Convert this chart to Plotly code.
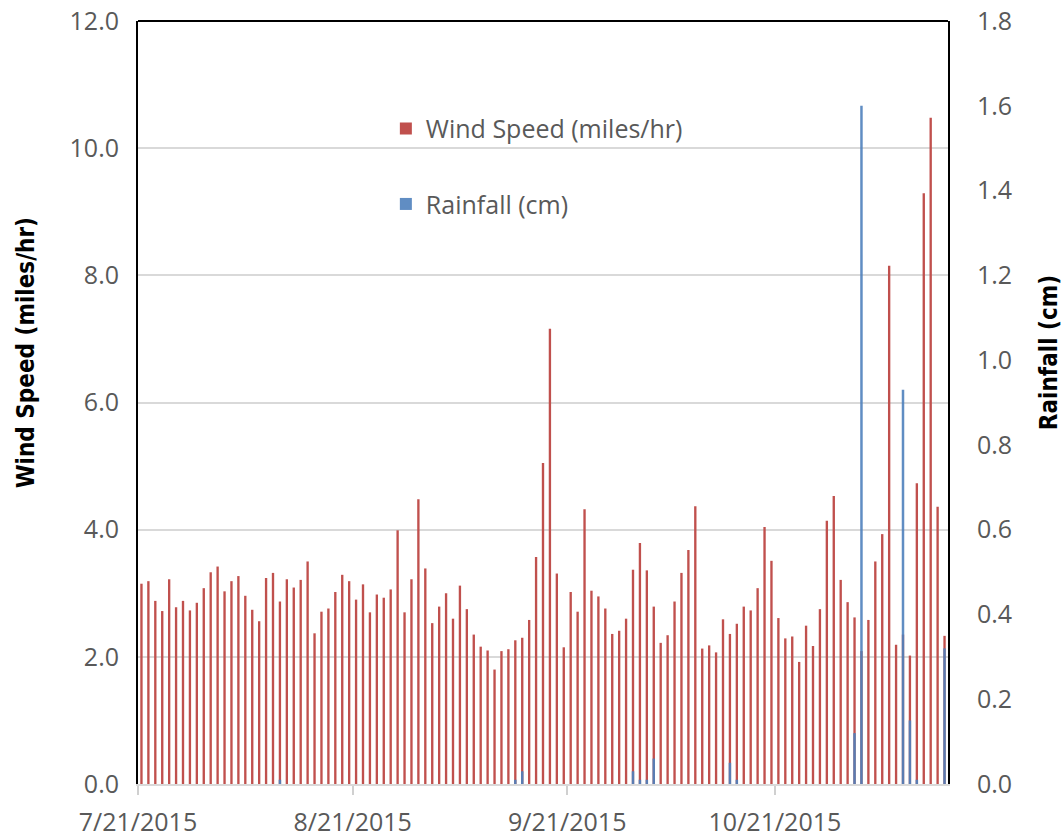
import pandas as pd
import plotly.graph_objects as go

start_date = "2015-07-21"

wind_speed = [
    3.15, 3.19, 2.88, 2.72, 3.22, 2.78, 2.88, 2.73, 2.85, 3.08,
    3.33, 3.42, 3.03, 3.19, 3.27, 2.96, 2.74, 2.56, 3.24, 3.32,
    2.87, 3.22, 3.09, 3.21, 3.50, 2.37, 2.71, 2.76, 3.02, 3.29,
    3.19, 2.90, 3.14, 2.70, 2.98, 2.93, 3.06, 3.99, 2.70, 3.22,
    4.48, 3.39, 2.53, 2.79, 3.00, 2.60, 3.12, 2.75, 2.35, 2.16,
    2.10, 1.80, 2.09, 2.12, 2.26, 2.30, 2.58, 3.57, 5.05, 7.16,
    3.31, 2.15, 3.02, 2.71, 4.32, 3.04, 2.95, 2.76, 2.36, 2.41,
    2.60, 3.37, 3.79, 3.36, 2.79, 2.22, 2.34, 2.87, 3.32, 3.68,
    4.37, 2.13, 2.18, 2.07, 2.59, 2.36, 2.52, 2.79, 2.73, 3.08,
    4.04, 3.51, 2.61, 2.29, 2.32, 1.92, 2.49, 2.17, 2.75, 4.14,
    4.53, 3.21, 2.86, 2.62, 2.09, 2.58, 3.50, 3.93, 8.15, 2.19,
    2.35, 2.02, 4.73, 9.29, 10.48, 4.36, 2.33,
]

rainfall = [0.0] * len(wind_speed)
rain_events = {  # day number (1 = 7/21/2015): rainfall in cm
    21: 0.01, 55: 0.01, 56: 0.03, 72: 0.03, 73: 0.01, 74: 0.01,
    75: 0.06, 86: 0.05, 87: 0.01, 104: 0.12, 105: 1.60, 111: 0.93,
    112: 0.15, 113: 0.01, 117: 0.32,
}
for day, val in rain_events.items():
    rainfall[day - 1] = val

dates = pd.date_range(start_date, periods=len(wind_speed), freq="D")

tick_dates = ["2015-07-21", "2015-08-21", "2015-09-21", "2015-10-21"]
tick_labels = ["7/21/2015", "8/21/2015", "9/21/2015", "10/21/2015"]

RED = "#C0504D"
BLUE = "#4F81BD"
DAY_MS = 86400000

fig = go.Figure()
fig.add_trace(go.Bar(
    x=dates, y=wind_speed, name="Wind Speed (miles/hr)",
    marker=dict(color=RED, line=dict(width=0)),
    xperiod=DAY_MS, xperiodalignment="middle", width=0.34 * DAY_MS,
    yaxis="y", legendgroup="w",
))
fig.add_trace(go.Bar(
    x=dates, y=rainfall, name="Rainfall (cm)",
    marker=dict(color=BLUE, line=dict(width=0)), opacity=0.9,
    xperiod=DAY_MS, xperiodalignment="middle", width=0.36 * DAY_MS,
    yaxis="y2", legendgroup="r",
))

tick_font = dict(family="Open Sans, sans-serif", size=25, color="#595959")
title_font = dict(family="Liberation Sans Narrow, Arial Narrow, DejaVu Sans Condensed, sans-serif",
                  size=24, color="#000000")

fig.update_layout(
    width=1062, height=839,
    margin=dict(l=138, r=114, t=21, b=55),
    paper_bgcolor="white", plot_bgcolor="white",
    barmode="overlay",
    showlegend=True,
    legend=dict(
        x=0.306, y=0.889, xanchor="left", yanchor="top",
        font=dict(family="Open Sans, sans-serif", size=25, color="#595959"),
        bgcolor="rgba(0,0,0,0)", traceorder="grouped", tracegroupgap=40,
    ),
    xaxis=dict(
        type="date", automargin=False,
        range=["2015-07-21", "2015-11-15"],
        tickvals=tick_dates, ticktext=tick_labels,
        tickfont=tick_font, ticklabeloverflow="allow",
        ticks="outside", ticklen=9, tickwidth=2, tickcolor="#D0D0D0",
        showline=True, linecolor="#D9D9D9", linewidth=2,
        showgrid=False, zeroline=False,
        ticklabelstandoff=6,
    ),
    yaxis=dict(
        range=[0, 12], dtick=2, tickformat=".1f", automargin=False,
        tickfont=tick_font, ticklabeloverflow="allow",
        showgrid=True, gridcolor="#D9D9D9", gridwidth=1.5,
        showline=True, linecolor="#000000", linewidth=2,
        zeroline=False, ticks="", ticklabelstandoff=12,
    ),
    yaxis2=dict(
        range=[0, 1.8], dtick=0.2, tickformat=".1f", automargin=False,
        overlaying="y", side="right",
        tickfont=tick_font, ticklabeloverflow="allow",
        showgrid=False,
        showline=True, linecolor="#000000", linewidth=2,
        zeroline=False, ticks="", ticklabelstandoff=22,
    ),
    shapes=[dict(type="line", xref="paper", yref="paper", x0=0, x1=1, y0=1, y1=1,
                 line=dict(color="#000000", width=2))],
    annotations=[
        dict(text="<b>Wind Speed (miles/hr)</b>", textangle=-90,
             xref="paper", yref="paper", x=-0.139, y=0.565,
             xanchor="center", yanchor="middle", showarrow=False, font=title_font),
        dict(text="<b>Rainfall (cm)</b>", textangle=-90,
             xref="paper", yref="paper", x=1.125, y=0.565,
             xanchor="center", yanchor="middle", showarrow=False, font=title_font),
    ],
)

# remove the browser's default page margin so the figure fills the window exactly
fig.write_html(
    "out.html",
    config={"displayModeBar": False},
    post_script="document.body.style.margin='0';document.body.style.overflow='hidden';",
)
